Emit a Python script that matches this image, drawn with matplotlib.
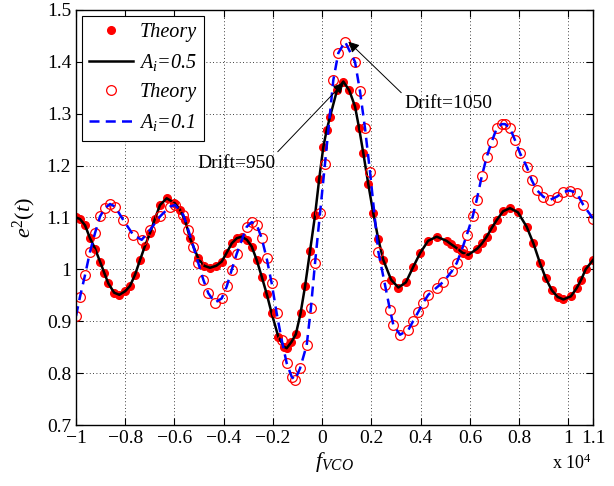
import matplotlib
matplotlib.use('Agg')
from matplotlib import pyplot as plt

plt.rcParams['font.family'] = 'Liberation Serif'
plt.rcParams['mathtext.fontset'] = 'custom'
plt.rcParams['mathtext.rm'] = 'Liberation Serif'
plt.rcParams['mathtext.it'] = 'Liberation Serif:italic'

# A_i = 0.5 (black line, red dots)
f_a05 = [-10000, -9838, -9634, -9431, -9228, -9025, -8850, -8688, -8450, -8240,
         -8000, -7807, -7600, -7400, -7200, -6994, -6790, -6588, -6317, -6000,
         -5780, -5572, -5369, -5032, -4800, -4557, -4300, -4082, -3880, -3676,
         -3470, -3270, -3060, -2863, -2660, -2457, -2250, -2051, -1782, -1550,
         -1442, -1250, -1070, -880, -698, -495, -292, -120, 46, 180,
         317, 600, 858, 1100, 1333, 1500, 1670, 1870, 2076, 2280,
         2483, 2800, 3094, 3400, 3700, 3974, 4300, 4651, 5050, 5250,
         5463, 5700, 5937, 6300, 6490, 6683, 6890, 7089, 7350, 7629,
         7950, 8307, 8580, 8848, 9080, 9323, 9560, 9795, 10100, 10338,
         10520, 10700, 11000]
e2_a05 = [1.100, 1.097, 1.085, 1.060, 1.040, 1.015, 0.993, 0.973, 0.955, 0.951,
          0.958, 0.968, 0.990, 1.018, 1.045, 1.070, 1.098, 1.124, 1.137, 1.128,
          1.115, 1.095, 1.060, 1.021, 1.007, 1.003, 1.007, 1.015, 1.032, 1.050,
          1.060, 1.063, 1.057, 1.044, 1.018, 0.986, 0.952, 0.915, 0.870, 0.851,
          0.848, 0.860, 0.875, 0.915, 0.967, 1.035, 1.104, 1.175, 1.236, 1.268,
          1.294, 1.345, 1.362, 1.345, 1.314, 1.272, 1.224, 1.165, 1.108, 1.058,
          1.018, 0.980, 0.965, 0.975, 1.005, 1.031, 1.055, 1.063, 1.055, 1.048,
          1.041, 1.032, 1.028, 1.040, 1.050, 1.063, 1.080, 1.095, 1.112, 1.118,
          1.110, 1.082, 1.050, 1.012, 0.983, 0.960, 0.947, 0.942, 0.948, 0.964,
          0.980, 1.000, 1.018]

# A_i = 0.1 (blue dashed line, red open circles)
f_a01 = [-10000, -9838, -9634, -9431, -9228, -9025, -8822, -8619, -8416, -8078,
         -7672, -7331, -6994, -6588, -6182, -5979, -5640, -5437, -5234, -5032,
         -4829, -4626, -4354, -4082, -3879, -3676, -3473, -3067, -2863, -2660,
         -2457, -2254, -2051, -1848, -1645, -1442, -1239, -1104, -901, -629,
         -460, -292, -89, 114, 452, 655, 927, 1333, 1536, 1739,
         1942, 2280, 2551, 2754, 2889, 3161, 3498, 3700, 3903, 4107,
         4310, 4651, 4921, 5261, 5463, 5667, 5870, 6114, 6276, 6480,
         6683, 6886, 7089, 7292, 7426, 7629, 7832, 8035, 8307, 8510,
         8713, 8983, 9254, 9526, 9794, 10066, 10337, 10608, 11000]
e2_a01 = [0.910, 0.947, 0.989, 1.034, 1.070, 1.102, 1.118, 1.126, 1.121, 1.095,
          1.066, 1.057, 1.076, 1.102, 1.121, 1.124, 1.105, 1.076, 1.044, 1.012,
          0.980, 0.954, 0.936, 0.944, 0.967, 0.999, 1.030, 1.082, 1.091, 1.086,
          1.060, 1.021, 0.973, 0.915, 0.864, 0.819, 0.793, 0.787, 0.809, 0.854,
          0.925, 1.012, 1.108, 1.204, 1.365, 1.417, 1.439, 1.400, 1.343, 1.272,
          1.188, 1.034, 0.970, 0.922, 0.893, 0.874, 0.883, 0.901, 0.918, 0.936,
          0.951, 0.965, 0.976, 0.996, 1.012, 1.037, 1.066, 1.102, 1.134, 1.179,
          1.217, 1.246, 1.272, 1.280, 1.280, 1.272, 1.249, 1.224, 1.198, 1.172,
          1.153, 1.140, 1.134, 1.140, 1.149, 1.152, 1.147, 1.124, 1.098]

xtick_vals = [-1, -0.8, -0.6, -0.4, -0.2, 0, 0.2, 0.4, 0.6, 0.8, 1, 1.1]
xtick_labels = ['\u22121', '\u22120.8', '\u22120.6', '\u22120.4', '\u22120.2', '0',
                '0.2', '0.4', '0.6', '0.8', '1', '1.1']
ytick_vals = [0.7, 0.8, 0.9, 1.0, 1.1, 1.2, 1.3, 1.4, 1.5]
ytick_labels = ['0.7', '0.8', '0.9', '1', '1.1', '1.2', '1.3', '1.4', '1.5']

fig = plt.figure(figsize=(6.14, 4.86), dpi=100)
ax = fig.add_axes([0.1238, 0.1255, 0.842, 0.854])

ax.plot(f_a05, e2_a05, 'o', color='red', markersize=5.5, label='Theory')
ax.plot(f_a05, e2_a05, '-', color='black', lw=1.8, label='$A_i$=0.5')
ax.plot(f_a01, e2_a01, 'o', mfc='none', mec='red', markersize=7, mew=0.9, label='Theory')
ax.plot(f_a01, e2_a01, '--', color='blue', lw=1.8, dashes=(4, 2.5), label='$A_i$=0.1')

ax.set_xlim(-10000, 11000)
ax.set_ylim(0.7, 1.5)
ax.set_xticks([v * 1e4 for v in xtick_vals])
ax.set_xticklabels(xtick_labels)
ax.set_yticks(ytick_vals)
ax.set_yticklabels(ytick_labels)
ax.tick_params(direction='in', top=True, right=True, labelsize=14, length=5, width=0.8)
ax.grid(True, color='k', linestyle=(0, (1, 3)), linewidth=0.6)
for s in ax.spines.values():
    s.set_linewidth(1.0)

ax.set_xlabel(r'$f_{VCO}$', fontsize=16, labelpad=2)
ax.set_ylabel(r'$e^2(t)$', fontsize=16, labelpad=6)
fig.text(0.964, 0.035, r'x 10$^4$', fontsize=13, ha='right')

ax.annotate('Drift=950', xy=(880, 1.36), xytext=(-3500, 1.205), ha='center', va='center',
            fontsize=14, arrowprops=dict(arrowstyle='-|>', color='k', lw=0.7, relpos=(1, 1),
                                         shrinkA=0, shrinkB=0, mutation_scale=16))
ax.annotate('Drift=1050', xy=(1061, 1.439), xytext=(5111, 1.319), ha='center', va='center',
            fontsize=14, arrowprops=dict(arrowstyle='-|>', color='k', lw=0.7, relpos=(0, 1),
                                         shrinkA=0, shrinkB=0, mutation_scale=16))

leg = ax.legend(loc='upper left', prop={'style': 'italic', 'size': 14.5}, fancybox=False,
                edgecolor='k', framealpha=1, borderaxespad=0.3, handlelength=2.2,
                labelspacing=0.5, borderpad=0.35, handletextpad=0.3)
leg.get_frame().set_linewidth(0.8)

fig.savefig('out.png', dpi=100)
